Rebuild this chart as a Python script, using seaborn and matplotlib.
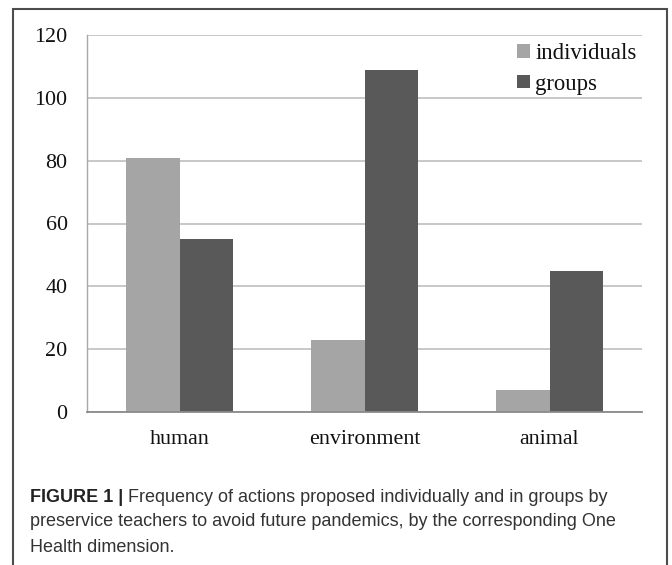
import matplotlib
matplotlib.use("Agg")
import matplotlib.pyplot as plt
import seaborn as sns
import pandas as pd
from matplotlib.lines import Line2D

categories = ["human", "environment", "animal"]
individuals = [81, 23, 7]
groups = [55, 109, 45]
series_names = ["individuals", "groups"]
y_ticks = [0, 20, 40, 60, 80, 100, 120]
caption_bold = "FIGURE 1 |"
caption_lines = [
    " Frequency of actions proposed individually and in groups by",
    "preservice teachers to avoid future pandemics, by the corresponding One",
    "Health dimension.",
]

df = pd.DataFrame({
    "dimension": categories * 2,
    "series": [series_names[0]] * 3 + [series_names[1]] * 3,
    "count": individuals + groups,
})

sns.set_theme(style="white")
W, H = 672, 565
fig = plt.figure(figsize=(W / 100, H / 100), dpi=100)

def fx(px):
    return px / W

def fy(py):
    return 1 - py / H

ax_left, ax_right, ax_top, ax_bottom = 87, 642, 35, 412
ax = fig.add_axes([fx(ax_left), fy(ax_bottom), fx(ax_right - ax_left), (ax_bottom - ax_top) / H])

sns.barplot(data=df, x="dimension", y="count", hue="series", order=categories,
            hue_order=series_names, palette=["#a5a5a5", "#595959"],
            width=0.575, gap=0, saturation=1, edgecolor="none", linewidth=0, ax=ax)

ax.set_xlim(-0.5, 2.5)
ax.set_ylim(0, 120)
ax.set_yticks(y_ticks)
ax.set_xlabel("")
ax.set_ylabel("")
ax.yaxis.grid(True, color="#bfbfbf", linewidth=1.2)
ax.set_axisbelow(True)
for s in ["top", "right"]:
    ax.spines[s].set_visible(False)
ax.spines["left"].set_color("#a8a8a8")
ax.spines["left"].set_linewidth(1.0)
ax.spines["bottom"].set_color("#8a8a8a")
ax.spines["bottom"].set_linewidth(1.3)

serif = ["Liberation Serif", "DejaVu Serif"]
ax.tick_params(axis="both", length=0)
ax.tick_params(axis="y", pad=14)
ax.tick_params(axis="x", pad=13)
for lab in ax.get_yticklabels() + ax.get_xticklabels():
    lab.set_fontfamily(serif)
    lab.set_fontsize(15.8)
    lab.set_color("#111111")

handles, labels = ax.get_legend_handles_labels()
if ax.legend_:
    ax.legend_.remove()
leg = fig.legend(handles, labels, loc="upper left",
                 bbox_to_anchor=(fx(517), fy(43)), bbox_transform=fig.transFigure,
                 frameon=False, borderpad=0, borderaxespad=0,
                 handlelength=0.55, handleheight=0.55, handletextpad=0.25,
                 labelspacing=0.42, prop={"family": serif, "size": 16.4})
for t in leg.get_texts():
    t.set_color("#111111")

# outer frame
box_l, box_r, box_t = 13, 667, 9
fig.add_artist(Line2D([fx(box_l), fx(box_l), fx(box_r), fx(box_r)],
                      [fy(H + 10), fy(box_t), fy(box_t), fy(H + 10)],
                      transform=fig.transFigure, color="#4d4d4d", linewidth=1.5,
                      solid_joinstyle="miter"))

# caption
sans = ["Liberation Sans", "DejaVu Sans"]
cap_x = 30
cap_color = "#333333"
line_y = [497, 522, 547]
renderer = fig.canvas.get_renderer()

# fit the caption font so the second line spans the same width as in the reference
probe = fig.text(0, 0, caption_lines[1], fontfamily=sans, fontsize=12)
pw = probe.get_window_extent(renderer=renderer).width
probe.remove()
cap_size = 12 * (619 - cap_x) / pw

tb = fig.text(fx(cap_x), fy(line_y[0]), caption_bold, fontfamily=sans, fontweight="bold",
              fontsize=cap_size, color="#222222", va="center", ha="left")
bb = tb.get_window_extent(renderer=renderer)
fig.text(bb.x1 / W, fy(line_y[0]), caption_lines[0], fontfamily=sans, fontsize=cap_size,
         color=cap_color, va="center", ha="left")
for i in (1, 2):
    fig.text(fx(cap_x), fy(line_y[i]), caption_lines[i], fontfamily=sans, fontsize=cap_size,
             color=cap_color, va="center", ha="left")

fig.savefig("out.png", dpi=100, facecolor="white")
